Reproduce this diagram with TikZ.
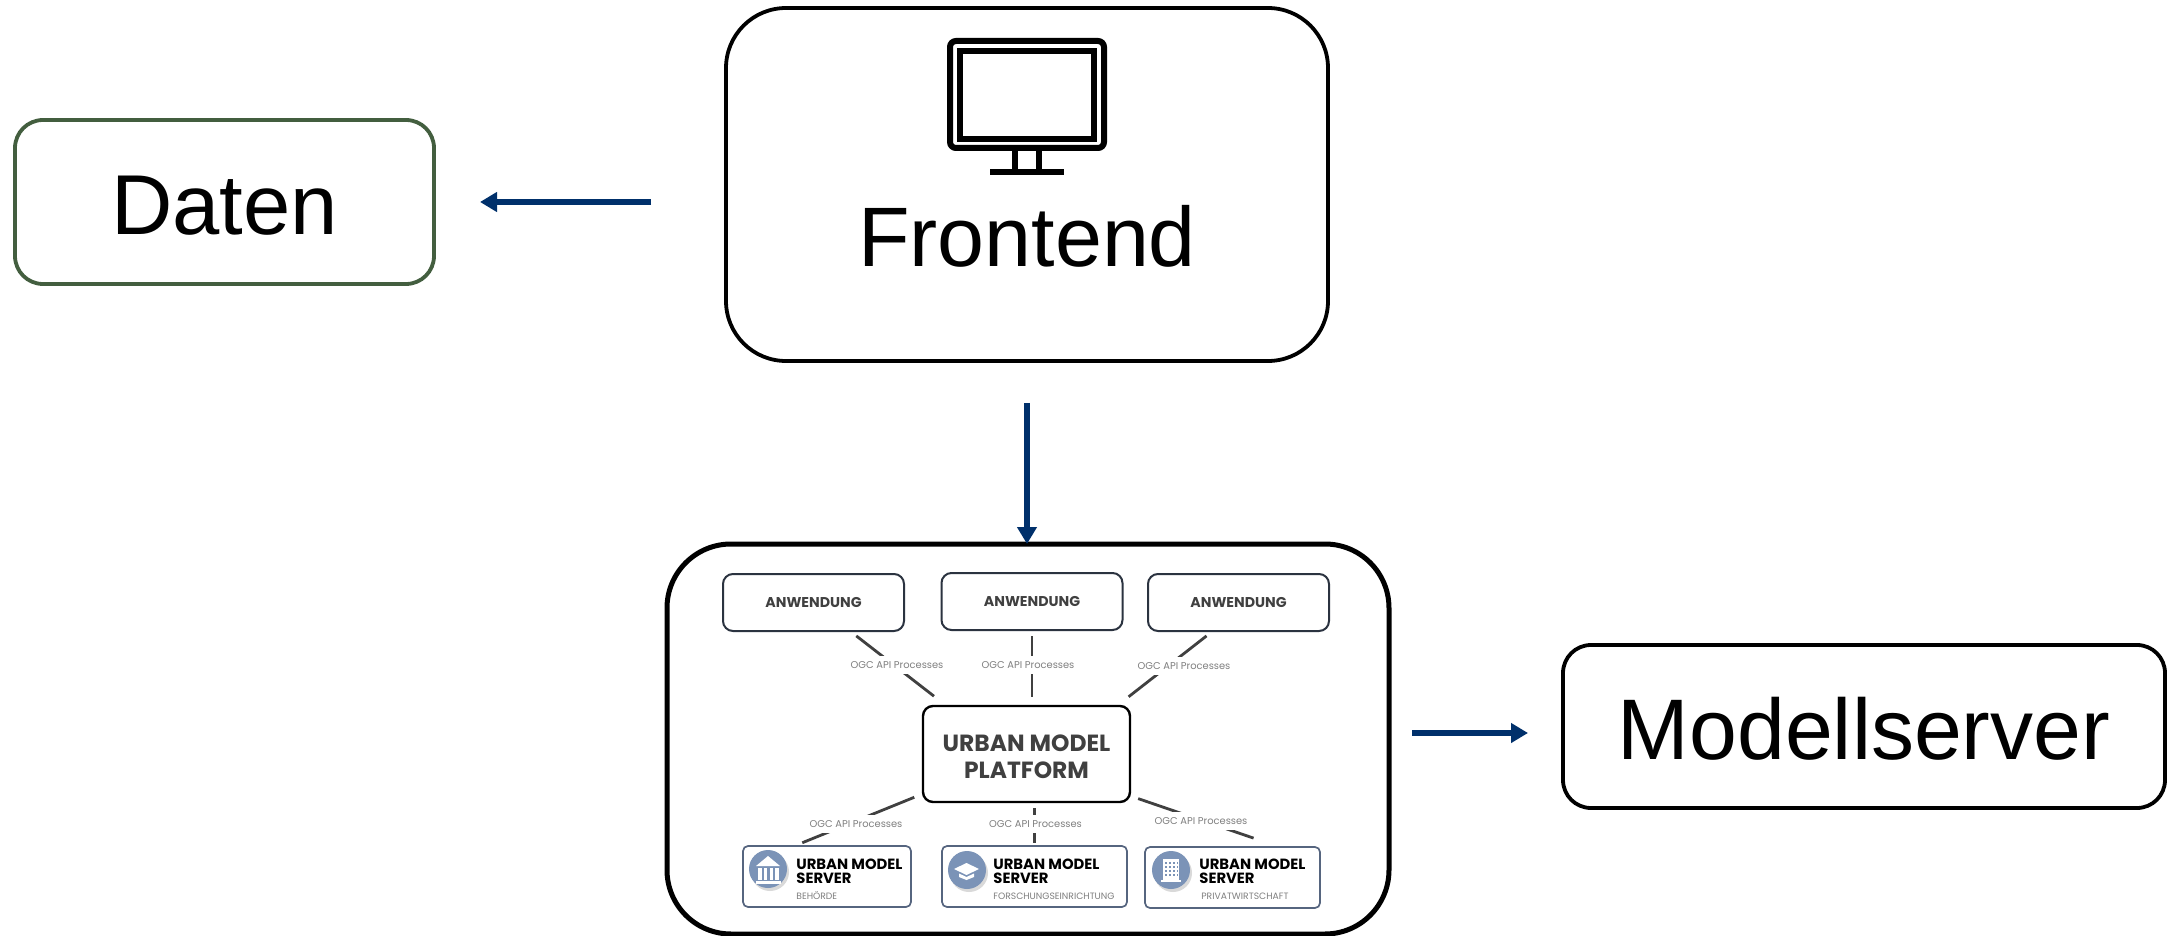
\documentclass[tikz,border=0pt]{standalone}
\usepackage{fontspec}
\usetikzlibrary{arrows.meta}
\setmainfont{Liberation Sans}
\newfontfamily\gothicfont{Poppins}
\definecolor{flowblue}{HTML}{00306B}
\definecolor{datagreen}{HTML}{435E3F}
\definecolor{slatenavy}{HTML}{2B3340}
\definecolor{serverline}{HTML}{56657F}
\definecolor{iconblue}{HTML}{7B93B7}
\definecolor{textgrey}{HTML}{404040}
\definecolor{labelgrey}{HTML}{7F7F7F}

\begin{document}
\begin{tikzpicture}[
    x=0.5pt, y=-0.5pt,
    bigbox/.style={rectangle, draw=black, line width=1.9pt, fill=white, outer sep=0pt,
        inner sep=0pt, rounded corners=14pt, font=\fontsize{42.5}{48}\selectfont},
    appbox/.style={rectangle, draw=slatenavy, line width=1pt, fill=white, outer sep=0pt,
        inner sep=0pt, minimum width=90.5pt, minimum height=28.5pt, rounded corners=5pt,
        text=textgrey, font=\gothicfont\bfseries\fontsize{7.1}{8}\selectfont},
    serverbox/.style={rectangle, draw=serverline, line width=0.85pt, fill=white, outer sep=0pt,
        inner sep=0pt, minimum width=84pt, minimum height=30.5pt, rounded corners=2.5pt},
    servertext/.style={anchor=west, inner sep=0pt, align=left,
        font=\gothicfont\bfseries\fontsize{7.4}{7}\selectfont},
    subtext/.style={anchor=west, inner sep=0pt, text=labelgrey,
        font=\gothicfont\fontsize{4.6}{5}\selectfont},
    apilabel/.style={fill=white, inner xsep=0pt, inner ysep=0pt, minimum height=9pt,
        text=labelgrey, font=\gothicfont\fontsize{4.95}{5}\selectfont},
    apiline/.style={draw=textgrey, line width=1.4pt},
    flow/.style={draw=flowblue, line width=3pt, -{Triangle[length=8.5pt,width=9.5pt]}},
    iconcircle/.style={circle, fill=iconblue, minimum size=19pt, inner sep=0pt},
    iconshadow/.style={circle, fill=black!15, minimum size=19pt, inner sep=0pt},
    iconpart/.style={fill=white, draw=none}
]
    \useasboundingbox (0,0) rectangle (2176,936);

    \node[bigbox, draw=datagreen, minimum width=209.5pt, minimum height=82pt, text height=33pt, text depth=0pt] (daten) at (224.5,202) {Daten};
    \node[bigbox, minimum width=301pt, minimum height=176.5pt, rounded corners=30pt] (frontend) at (1027,184.5) {};
    \node[inner sep=0pt, font=\fontsize{42.2}{48}\selectfont] (frontendtext) at (1027,236.5) {Frontend};
    \node[bigbox, minimum width=301pt, minimum height=81.5pt, text height=32.5pt, text depth=0pt, font=\fontsize{43}{48}\selectfont] (modell) at (1864,726.5) {Modellserver};
    \node[bigbox, line width=2.5pt, minimum width=361pt, minimum height=195pt, rounded corners=32pt] (umpbox) at (1028,739) {};

    \draw[line width=3pt, rounded corners=3pt] (950,41) rectangle (1104,148);
    \draw[line width=3pt] (960,51) rectangle (1094,139);
    \draw[line width=3pt] (1015,151) -- (1015,172);
    \draw[line width=3pt] (1039,151) -- (1039,172);
    \draw[line width=3pt] (990,172) -- (1064,172);

    \draw[flow, shorten <=37.5pt, shorten >=23pt] (daten.east -| frontend.west) -- (daten.east);
    \draw[flow, shorten <=21pt] (frontend.south) -- (frontend.south |- umpbox.north);
    \coordinate (umpout) at (1412,733);
    \draw[flow, shorten >=17.5pt] (umpout) -- (umpout -| modell.west);

    \node[appbox] (anwa) at (813.5,602.5) {ANWENDUNG};
    \node[appbox] (anwb) at (1032,601.5) {ANWENDUNG};
    \node[appbox] (anwc) at (1238.5,602.5) {ANWENDUNG};
    \node[appbox, line width=1.2pt, draw=black, minimum width=103.5pt, minimum height=48pt, align=center,
        font=\gothicfont\bfseries\fontsize{11.7}{13.5}\selectfont] (platform) at (1026.5,754) {\rule{0pt}{11pt}URBAN MODEL\\PLATFORM};

    \node[serverbox] (servera) at (827,876.5) {};
    \node[serverbox, minimum width=92.5pt] (serverb) at (1034.5,876.5) {};
    \node[serverbox, minimum width=87.5pt] (serverc) at (1232.5,877.5) {};

    \draw[apiline, shorten <=4pt, shorten >=8pt] (anwa.-38) -- (platform.149);
    \draw[apiline, shorten <=3pt, shorten >=4.5pt] (anwb.south) -- (anwb.south |- platform.north);
    \draw[apiline, shorten <=4pt, shorten >=7.5pt] (anwc.228.7) -- (platform.28.5);
    \draw[apiline, shorten <=4.7pt, shorten >=4.3pt] (platform.201.6) -- (servera.137.3);
    \draw[apiline, xshift=-0.75pt, shorten <=3pt, shorten >=1.5pt] (serverb.north |- platform.south) -- (serverb.north);
    \draw[apiline, shorten <=4.3pt, shorten >=13.7pt] (platform.-22.1) -- (serverc.33.8);

    \node[apilabel] (apia) at (897,665) {OGC API Processes};
    \node[apilabel] (apib) at (1028,665) {OGC API Processes};
    \node[apilabel] (apic) at (1184,666) {OGC API Processes};
    \node[apilabel] (apid) at (856,824) {OGC API Processes};
    \node[apilabel] (apie) at (1035.5,824) {OGC API Processes};
    \node[apilabel] (apif) at (1201,821) {OGC API Processes};

    \node[iconshadow] at (770,872) {};
    \node[iconcircle] (bankicon) at (768,869) {};
    \fill[iconpart] (756,866) -- (768,856) -- (780,866) -- cycle;
    \fill[iconpart] (758,868) rectangle (761.5,880);
    \fill[iconpart] (764,868) rectangle (767,880);
    \fill[iconpart] (769.5,868) rectangle (772.5,880);
    \fill[iconpart] (775,868) rectangle (778.5,880);
    \fill[iconpart] (756,881) rectangle (781,884);

    \node[iconshadow] at (969,873) {};
    \node[iconcircle] (schoolicon) at (967,870) {};
    \fill[iconpart] (954,869) -- (966.5,863) -- (979,869) -- (966.5,875) -- cycle;
    \fill[iconpart] (959,873.5) -- (966.5,877) -- (974,873.5) -- (974,877) -- (966.5,880) -- (959,877) -- cycle;

    \node[iconshadow] at (1173,873) {};
    \node[iconcircle] (officeicon) at (1171,870) {};
    \fill[iconpart] (1163,859) rectangle (1179,880);
    \fill[iconpart] (1161,880) rectangle (1181,882);
    \draw[iconblue, line width=0.7pt, dash pattern=on 1pt off 1pt] (1165,863) -- (1178,863);
    \draw[iconblue, line width=0.7pt, dash pattern=on 1pt off 1pt] (1165,867) -- (1178,867);
    \draw[iconblue, line width=0.7pt, dash pattern=on 1pt off 1pt] (1165,871) -- (1178,871);
    \draw[iconblue, line width=0.7pt, dash pattern=on 1pt off 1pt] (1165,875) -- (1178,875);

    \node[servertext] (umsa) at (796,871) {URBAN MODEL\\SERVER};
    \node[servertext] (umsb) at (993,871) {URBAN MODEL\\SERVER};
    \node[servertext] (umsc) at (1199,871) {URBAN MODEL\\SERVER};
    \node[subtext] (suba) at (796,896) {BEHÖRDE};
    \node[subtext] (subb) at (993,896) {FORSCHUNGSEINRICHTUNG};
    \node[subtext] (subc) at (1201,896) {PRIVATWIRTSCHAFT};
\end{tikzpicture}
\end{document}
